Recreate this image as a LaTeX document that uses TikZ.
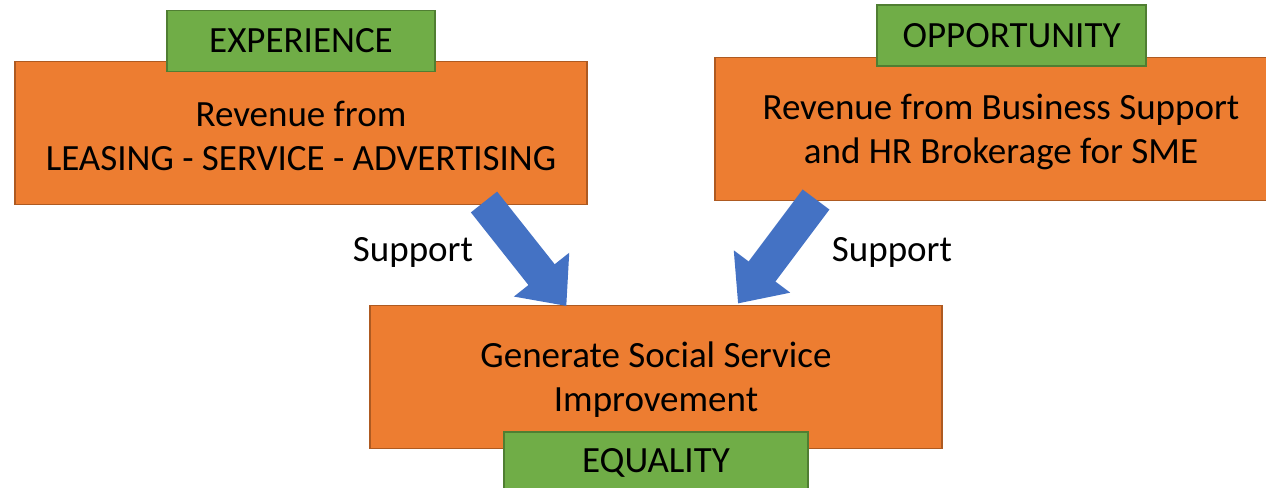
\documentclass[tikz,border=0pt]{standalone}
\usepackage{fontspec}
\setmainfont{Carlito}
\usetikzlibrary{arrows.meta}
\definecolor{boxorange}{HTML}{ED7D31}
\definecolor{boxorangeline}{HTML}{AE5A21}
\definecolor{tagGreen}{HTML}{70AD47}
\definecolor{tagGreenline}{HTML}{507E32}
\definecolor{arrowblue}{HTML}{4472C4}
\begin{document}
\begin{tikzpicture}[x=1bp,y=-1bp,
  mainbox/.style={draw=boxorangeline, fill=boxorange, line width=1.8bp,
    minimum width=572bp, minimum height=143bp, inner sep=0pt},
  boxtext/.style={align=center, inner sep=0pt, yshift=-2.5bp,
    font=\fontsize{37bp}{44bp}\selectfont},
  tagbox/.style={draw=tagGreenline, fill=tagGreen, line width=1.8bp,
    minimum height=61bp, inner sep=0pt,
    font=\fontsize{37bp}{44bp}\selectfont},
  supportlabel/.style={font=\fontsize{37bp}{44bp}\selectfont, inner sep=0pt},
  blockarrow/.style={draw=none, arrowblue, line width=33.5bp,
    -{Triangle[width=68bp,length=40bp]}}
]
\useasboundingbox (0,0) rectangle (1266,488);
% main boxes
\node[mainbox] (left) at (301,133) {};
\node[boxtext] (lefttext) at (left) {Revenue from\\LEASING - SERVICE - ADVERTISING};
\node[mainbox] (right) at (1001,129) {};
\node[boxtext] (righttext) at (right) {Revenue from Business Support\\and HR Brokerage for SME};
\node[mainbox] (bottom) at (656,377) {};
\node[boxtext] (bottomtext) at (bottom) {Generate Social Service\\Improvement};
% tags
\node[tagbox, minimum width=268bp] (exp) at (301,41) {EXPERIENCE};
\node[tagbox, minimum width=269bp] (opp) at (1011.5,35.5) {OPPORTUNITY};
\node[tagbox, minimum width=304bp] (eq) at (656,462.5) {EQUALITY};
% arrows
\coordinate (lstart) at (484,202);
\coordinate (lend) at (566.4,306);
\coordinate (rstart) at (816,199.5);
\coordinate (rend) at (738,303.5);
\draw[blockarrow, draw=arrowblue] (lstart) -- (lend);
\draw[blockarrow, draw=arrowblue] (rstart) -- (rend);
% labels
\node[supportlabel] (sl) at (413,252) {Support};
\node[supportlabel] (sr) at (892,252) {Support};
\end{tikzpicture}
\end{document}
